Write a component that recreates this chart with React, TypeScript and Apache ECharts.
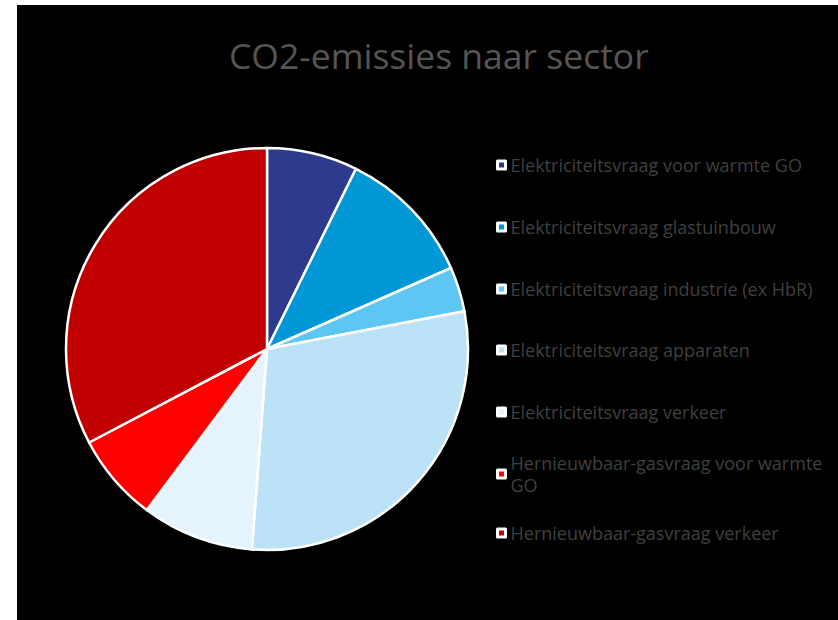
import React, { useEffect, useRef } from "react";
import * as echarts from "echarts";

const title = "CO2-emissies naar sector";
const categories = [
  "Elektriciteitsvraag voor warmte GO",
  "Elektriciteitsvraag glastuinbouw",
  "Elektriciteitsvraag industrie (ex HbR)",
  "Elektriciteitsvraag apparaten",
  "Elektriciteitsvraag verkeer",
  "Hernieuwbaar-gasvraag voor warmte GO",
  "Hernieuwbaar-gasvraag verkeer",
];
const values = [7.3, 11.1, 3.6, 29.2, 9.0, 7.1, 32.7];
const colors = ["#2E3B8D", "#0097D6", "#5EC6F2", "#BCE2F8", "#E5F3FD", "#FF0000", "#C00000"];

export default function App() {
  const ref = useRef<HTMLDivElement>(null);
  useEffect(() => {
    if (!ref.current) return;
    const chart = echarts.init(ref.current, undefined, { renderer: "svg" });
    const iconCenters = [160, 222, 284, 345, 407, 469, 528];
    const lineH = 22;
    const legends = categories.map((name, i) => {
      const wrapped = i === 5;
      const h = wrapped ? lineH * 3 : lineH;
      return {
        data: [name],
        orient: "vertical",
        left: 479,
        top: iconCenters[i] - h / 2,
        padding: 0,
        itemWidth: 8,
        itemHeight: 8,
        itemGap: 0,
        icon: "rect",
        selectedMode: false,
        itemStyle: { borderColor: "#ffffff", borderWidth: 3 },
        formatter: wrapped ? "Hernieuwbaar-gasvraag voor warmte\nGO" : "{name}",
        textStyle: {
          color: "#3f3f3f",
          fontFamily: "Open Sans",
          fontSize: 18,
          lineHeight: lineH,
          padding: wrapped ? [lineH, 0, 0, 0] : 0,
        },
      };
    });
    chart.setOption({
      animation: false,
      backgroundColor: "#000000",
      title: {
        text: title,
        left: 212,
        top: 32,
        padding: 0,
        textStyle: {
          color: "#555555",
          fontFamily: "Open Sans",
          fontSize: 35.5,
          fontWeight: "normal",
        },
      },
      legend: legends,
      series: [
        {
          type: "pie",
          center: [250, 344],
          radius: [0, 201],
          startAngle: 90,
          clockwise: true,
          label: { show: false },
          labelLine: { show: false },
          emphasis: { disabled: true },
          itemStyle: { borderColor: "#ffffff", borderWidth: 2.5 },
          data: categories.map((name, i) => ({
            name,
            value: values[i],
            itemStyle: { color: colors[i] },
          })),
        },
      ],
    });
    return () => chart.dispose();
  }, []);
  return (
    <div style={{ position: "absolute", left: 0, top: 0, width: 838, height: 620, background: "#ffffff" }}>
      <div ref={ref} style={{ position: "absolute", left: 17, top: 5, width: 821, height: 615 }} />
    </div>
  );
}
